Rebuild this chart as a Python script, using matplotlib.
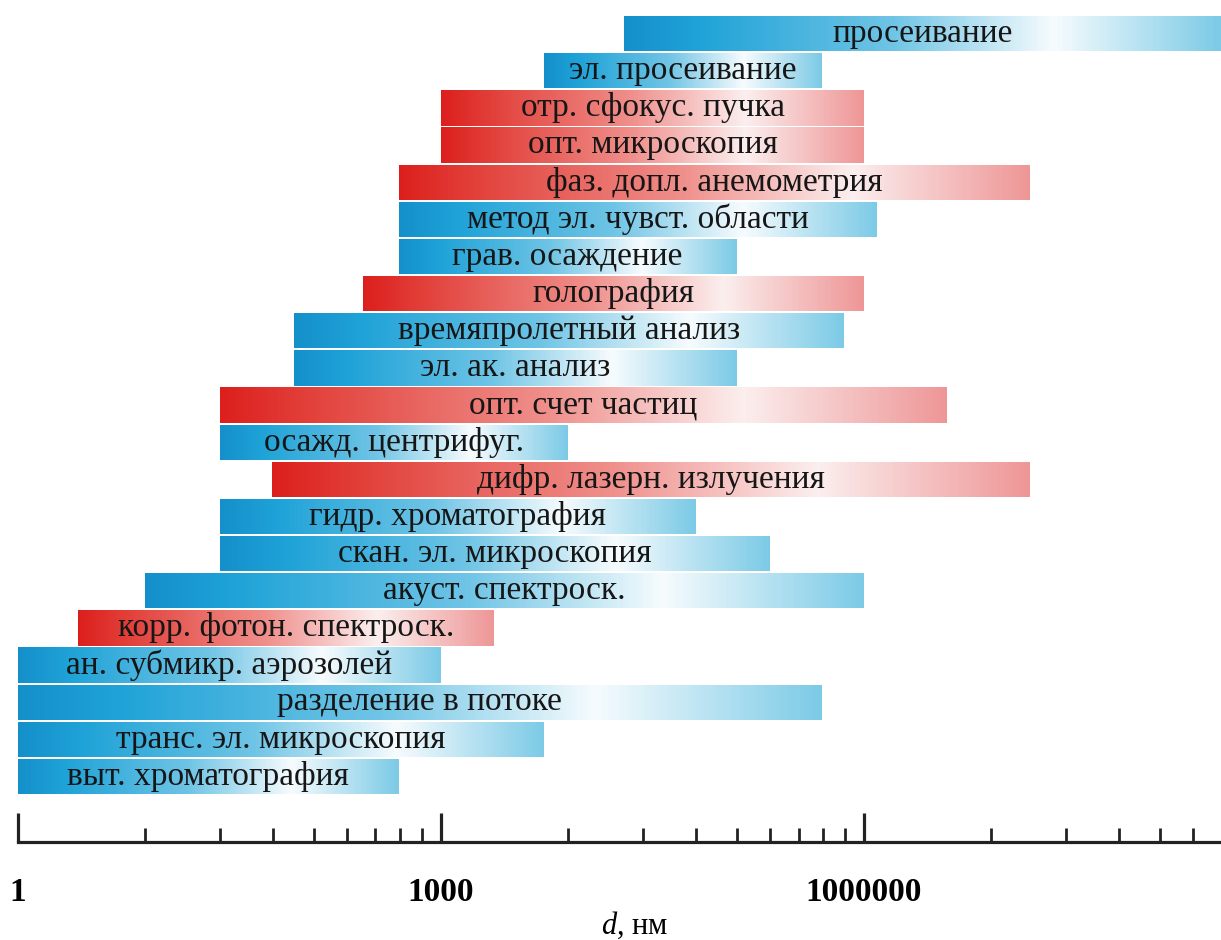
import numpy as np
import matplotlib
matplotlib.use('Agg')
import matplotlib.pyplot as plt
from matplotlib.colors import LinearSegmentedColormap
from matplotlib.ticker import FixedLocator, NullFormatter

# methods from top to bottom, size range in nm
methods = ['просеивание', 'эл. просеивание', 'отр. сфокус. пучка', 'опт. микроскопия',
           'фаз. допл. анемометрия', 'метод эл. чувст. области', 'грав. осаждение',
           'голография', 'времяпролетный анализ', 'эл. ак. анализ', 'опт. счет частиц',
           'осажд. центрифуг.', 'дифр. лазерн. излучения', 'гидр. хроматография',
           'скан. эл. микроскопия', 'акуст. спектроск.', 'корр. фотон. спектроск.',
           'ан. субмикр. аэрозолей', 'разделение в потоке', 'транс. эл. микроскопия',
           'выт. хроматография']
d_min = [2.0e4, 5.4e3, 1e3, 1e3, 500, 500, 500, 280, 90, 90, 27, 27, 63, 27, 27,
         8, 2.66, 1, 1, 1, 1]
d_max = [3.4e8, 5e5, 1e6, 1e6, 1.5e7, 1.24e6, 1.25e5, 1e6, 7.2e5, 1.25e5, 3.9e6,
         8e3, 1.5e7, 6.4e4, 2.15e5, 1e6, 2.38e3, 1e3, 5e5, 5.4e3, 500]
optical = [0, 0, 1, 1, 1, 0, 0, 1, 0, 0, 1, 0, 1, 0, 0, 0, 1, 0, 0, 0, 0]

major_ticks = [1, 1e3, 1e6]
major_labels = ['1', '1000', '1000000']

plt.rcParams['font.family'] = ['Liberation Serif', 'DejaVu Serif']
plt.rcParams['mathtext.fontset'] = 'custom'
plt.rcParams['mathtext.it'] = 'Liberation Serif:italic'
plt.rcParams['mathtext.rm'] = 'Liberation Serif'

blue = LinearSegmentedColormap.from_list('blue', [(0, '#148fca'), (0.12, '#1ea2d7'),
                                                  (0.45, '#6fc4e5'), (0.72, '#f6fbfd'),
                                                  (1, '#7ccae6')])
red = LinearSegmentedColormap.from_list('red', [(0, '#dc1f1c'), (0.12, '#e2403a'),
                                                (0.45, '#ef8f8b'), (0.72, '#fbeeee'),
                                                (1, '#ee9696')])

fig = plt.figure(figsize=(12.21, 9.40), dpi=100)
ax = fig.add_axes([18/1221, 98/940, 1203/1221, 827/940])
ax.set_xscale('log')

n = len(methods)
grad = np.linspace(0, 1, 256)[None, :]
for i, name in enumerate(methods):
    y = n - 1 - i
    lo, hi = d_min[i], d_max[i]
    xe = np.geomspace(lo, hi, 257)
    cmap = red if optical[i] else blue
    ax.pcolormesh(xe, [y - 0.475, y + 0.475], grad, cmap=cmap, vmin=0, vmax=1,
                  shading='flat')
    ax.text(np.sqrt(lo * hi), y, name, ha='center', va='center', fontsize=24,
            color='#161616')

ax.set_xlim(1, 3.4e8)
ax.set_ylim(-1.764, n - 0.5)

for s in ['top', 'left', 'right']:
    ax.spines[s].set_visible(False)
ax.spines['bottom'].set_linewidth(2.3)
ax.spines['bottom'].set_color('#222222')
ax.set_yticks([])

minor = [k**3 * 1000**m for m in range(3) for k in range(2, 10)]
ax.xaxis.set_major_locator(FixedLocator(major_ticks))
ax.set_xticklabels(major_labels, fontweight='bold', fontsize=24)
ax.xaxis.set_minor_locator(FixedLocator(minor))
ax.xaxis.set_minor_formatter(NullFormatter())
ax.tick_params(axis='x', which='major', direction='in', length=21, width=2.3,
               color='#222222', pad=25)
ax.tick_params(axis='x', which='minor', direction='in', length=10, width=2.0,
               color='#222222')

ax.set_xlabel(r'$d$, нм', fontsize=22)
ax.xaxis.set_label_coords((635 - 18) / 1203, (842 - 910) / 827)

fig.savefig('out.png', dpi=100)
